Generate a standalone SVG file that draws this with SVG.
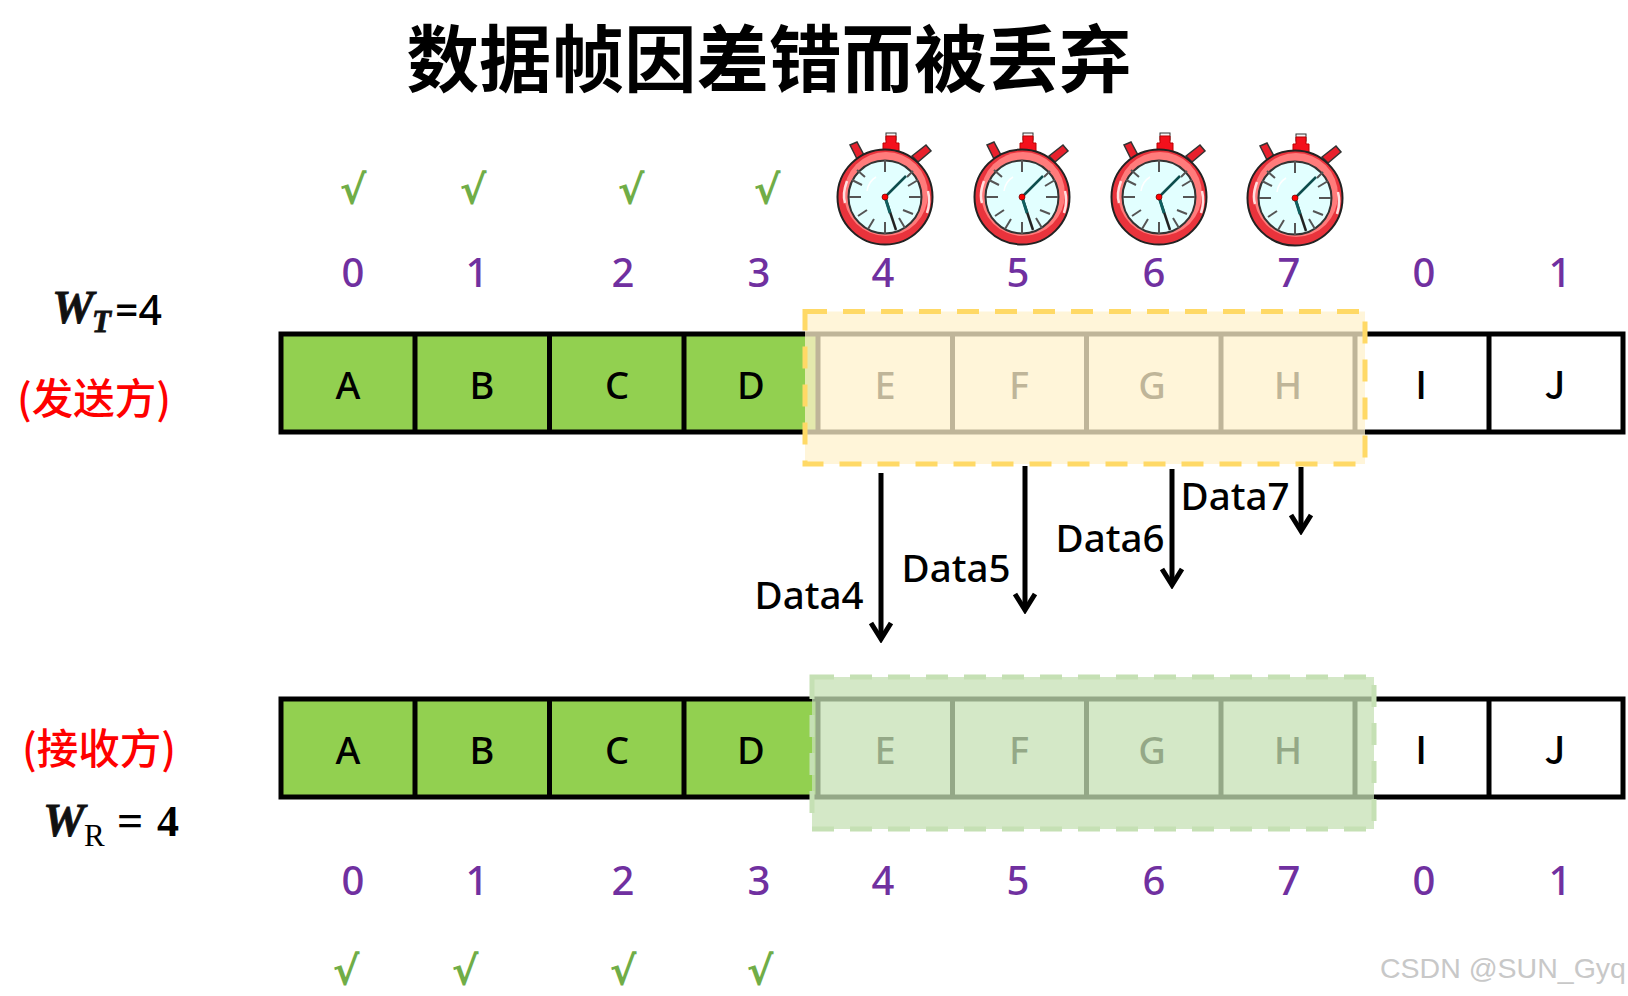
<svg xmlns="http://www.w3.org/2000/svg" xmlns:xlink="http://www.w3.org/1999/xlink" width="1628" height="996" viewBox="0 0 1628 996">
<style>
text{font-family:"Noto Sans","Noto Sans CJK SC",sans-serif}
.n{font-size:40px;fill:#7030A0;text-anchor:middle;font-weight:500}
.c{font-size:40px;fill:#70AD47;text-anchor:middle;font-weight:700;font-family:"DejaVu Sans",sans-serif}
.l{font-size:38px;fill:#000;text-anchor:middle;font-weight:500}
.s{font-family:"Noto Sans CJK SC",sans-serif;font-weight:500}
.d{font-size:38.500px;fill:#000;text-anchor:middle;font-weight:500}
.r{font-size:41.500px;fill:#f00;font-weight:500;font-family:"Noto Sans CJK SC",sans-serif}
.m{font-family:"Liberation Serif",serif;font-weight:700;font-style:italic;fill:#111;stroke:#111;stroke-width:.8}
.cell{fill:none;stroke:#000;stroke-width:5}
.g{fill:#92D050}
.arrow{stroke:#000;stroke-width:5;fill:none}
</style>
<defs>
<marker id="ah" markerUnits="userSpaceOnUse" markerWidth="26" markerHeight="26" refX="22" refY="12" orient="auto" viewBox="0 0 26 24"><path d="M6 2L22 12L6 22" fill="none" stroke="#000" stroke-width="5"/></marker>
<g id="clock">
<path d="M-35-52l7-3 8 15-7 4z" fill="#e8202c" stroke="#333" stroke-width="1.500"/>
<path d="M27-41l14-11 5 6-13 11z" fill="#e8202c" stroke="#333" stroke-width="1.500"/>
<rect x="1" y="-64" width="10" height="7" fill="#f4f4f4" stroke="#333"/>
<path d="M1-61h10v7h3v9h-16v-9h3z" fill="#f4101c" stroke="#b00" stroke-width="1"/>
<circle r="47.500" fill="#e9333c" stroke="#222" stroke-width="2"/>
<circle cx="1" cy="-3" r="42" fill="#ff7b7b"/>
<circle r="36.500" fill="#e2ffff" stroke="#333" stroke-width="2"/>
<path d="M0-37v12M0 37v-12M-36 0h12M36 0h-12M-28-27l8 7M28-26l-6 6M-27 19l9-6M28 17l-10-4M-17 32l6-10M20 31l-6-10M-33-17l10 5M33-17l-10 6" stroke="#555" stroke-width="2" fill="none"/>
<path d="M-18-6c1-7 4-11 9-14" stroke="#fff" stroke-width="1.500" fill="none"/>
<path d="M-38-16c-3 8-4 16-2 22M43-6c2 8 1 16-1 22" stroke="#ffe0e0" stroke-width="2.500" fill="none"/>
<path d="M0 0L21-21" stroke="#0d4d4d" stroke-width="2.500"/>
<path d="M0 0L11 33" stroke="#222" stroke-width="2.500"/>
<path d="M0 0L5 16" stroke="#0f6060" stroke-width="3"/>
<circle r="3" fill="#f00" stroke="#600" stroke-width=".7"/>
</g>
<g id="row">
<rect class="g" x="280" y="0" width="540" height="98"/>
<rect class="cell" x="281" y="0" width="1342" height="98"/>
<path d="M415 0v98M549.500 0v98M684 0v98M818 0v98M952.500 0v98M1086.500 0v98M1221 0v98M1355 0v98M1489 0v98" stroke="#000" stroke-width="5"/>
<text class="l" x="348" y="64.500">A</text>
<text class="l" x="482" y="64.500">B</text>
<text class="l" x="617" y="64.500">C</text>
<text class="l" x="751" y="64.500">D</text>
<text class="l" x="885" y="64.500">E</text>
<text class="l" x="1019" y="64.500">F</text>
<text class="l" x="1152" y="64.500">G</text>
<text class="l" x="1288" y="64.500">H</text>
<text class="l s" x="1421" y="64.500">I</text>
<text class="l s" x="1555" y="64.500">J</text>
</g>
</defs>
<rect width="1628" height="996" fill="#fff"/>
<text id="title" x="769" y="86" font-size="72.500" font-weight="700" text-anchor="middle" style="font-family:'Noto Sans CJK SC',sans-serif">数据帧因差错而被丢弃</text>

<g id="checks-top">
<text class="c" x="353" y="204">√</text><text class="c" x="473" y="204">√</text><text class="c" x="631" y="204">√</text><text class="c" x="767" y="204">√</text>
</g>
<g id="timers">
<use xlink:href="#clock" href="#clock" x="885" y="197"/>
<use xlink:href="#clock" href="#clock" x="1022" y="197"/>
<use xlink:href="#clock" href="#clock" x="1159" y="197"/>
<use xlink:href="#clock" href="#clock" x="1295" y="198"/>
</g>
<g id="seq-top">
<text class="n" x="353" y="287">0</text><text class="n" x="477" y="287">1</text><text class="n" x="623" y="287">2</text><text class="n" x="759" y="287">3</text><text class="n" x="883" y="287">4</text><text class="n" x="1018" y="287">5</text><text class="n" x="1154" y="287">6</text><text class="n" x="1289" y="287">7</text><text class="n" x="1424" y="287">0</text><text class="n" x="1560" y="287">1</text>
</g>
<g id="label-wt"><text class="m" x="52" y="323" font-size="47">W</text><text class="m" x="92" y="332" font-size="31">T</text><text x="115" y="325" font-size="41" font-weight="500">=4</text></g>
<text id="label-sender" class="r" x="17" y="414">(发送方)</text>
<g id="sender-row" transform="translate(0,334)"><use xlink:href="#row" href="#row"/></g>
<rect id="sender-window" x="805" y="311.500" width="560" height="152.500" fill="#FFF2CC" fill-opacity=".75" stroke="#FFD966" stroke-width="5" stroke-dasharray="22 16"/>

<g id="connectors">
<path class="arrow" marker-end="url(#ah)" d="M881 473V639"/>
<path class="arrow" marker-end="url(#ah)" d="M1025 466V610"/>
<path class="arrow" marker-end="url(#ah)" d="M1172 469V585"/>
<path class="arrow" marker-end="url(#ah)" d="M1301 467V531"/>
</g>
<text class="d" x="809" y="609">Data4</text>
<text class="d" x="956" y="582">Data5</text>
<text class="d" x="1110" y="552">Data6</text>
<text class="d" x="1235" y="510">Data7</text>

<text id="label-receiver" class="r" x="22" y="764">(接收方)</text>
<g id="label-wr"><text class="m" x="43" y="836" font-size="47">W</text><text x="84" y="846" font-size="31" style="font-family:'Liberation Serif',serif">R</text><text x="117" y="836" font-size="46" font-weight="700" style="font-family:'Liberation Serif',serif">=</text><text x="157" y="836" font-size="44" font-weight="700" style="font-family:'Liberation Serif',serif">4</text></g>
<g id="receiver-row" transform="translate(0,699)"><use xlink:href="#row" href="#row"/></g>
<rect id="receiver-window" x="812" y="677" width="562" height="152" fill="#C5E0B4" fill-opacity=".75" stroke="#C5E0B4" stroke-width="5" stroke-dasharray="22 16"/>

<g id="seq-bottom">
<text class="n" x="353" y="895">0</text><text class="n" x="477" y="895">1</text><text class="n" x="623" y="895">2</text><text class="n" x="759" y="895">3</text><text class="n" x="883" y="895">4</text><text class="n" x="1018" y="895">5</text><text class="n" x="1154" y="895">6</text><text class="n" x="1289" y="895">7</text><text class="n" x="1424" y="895">0</text><text class="n" x="1560" y="895">1</text>
</g>
<g id="checks-bottom">
<text class="c" x="346" y="985">√</text><text class="c" x="465" y="985">√</text><text class="c" x="623" y="985">√</text><text class="c" x="760" y="985">√</text>
</g>
<text id="watermark" x="1380" y="978" font-size="28.500" fill="#c8c8c8" style="font-family:'Liberation Sans',sans-serif">CSDN @SUN_Gyq</text>
</svg>
